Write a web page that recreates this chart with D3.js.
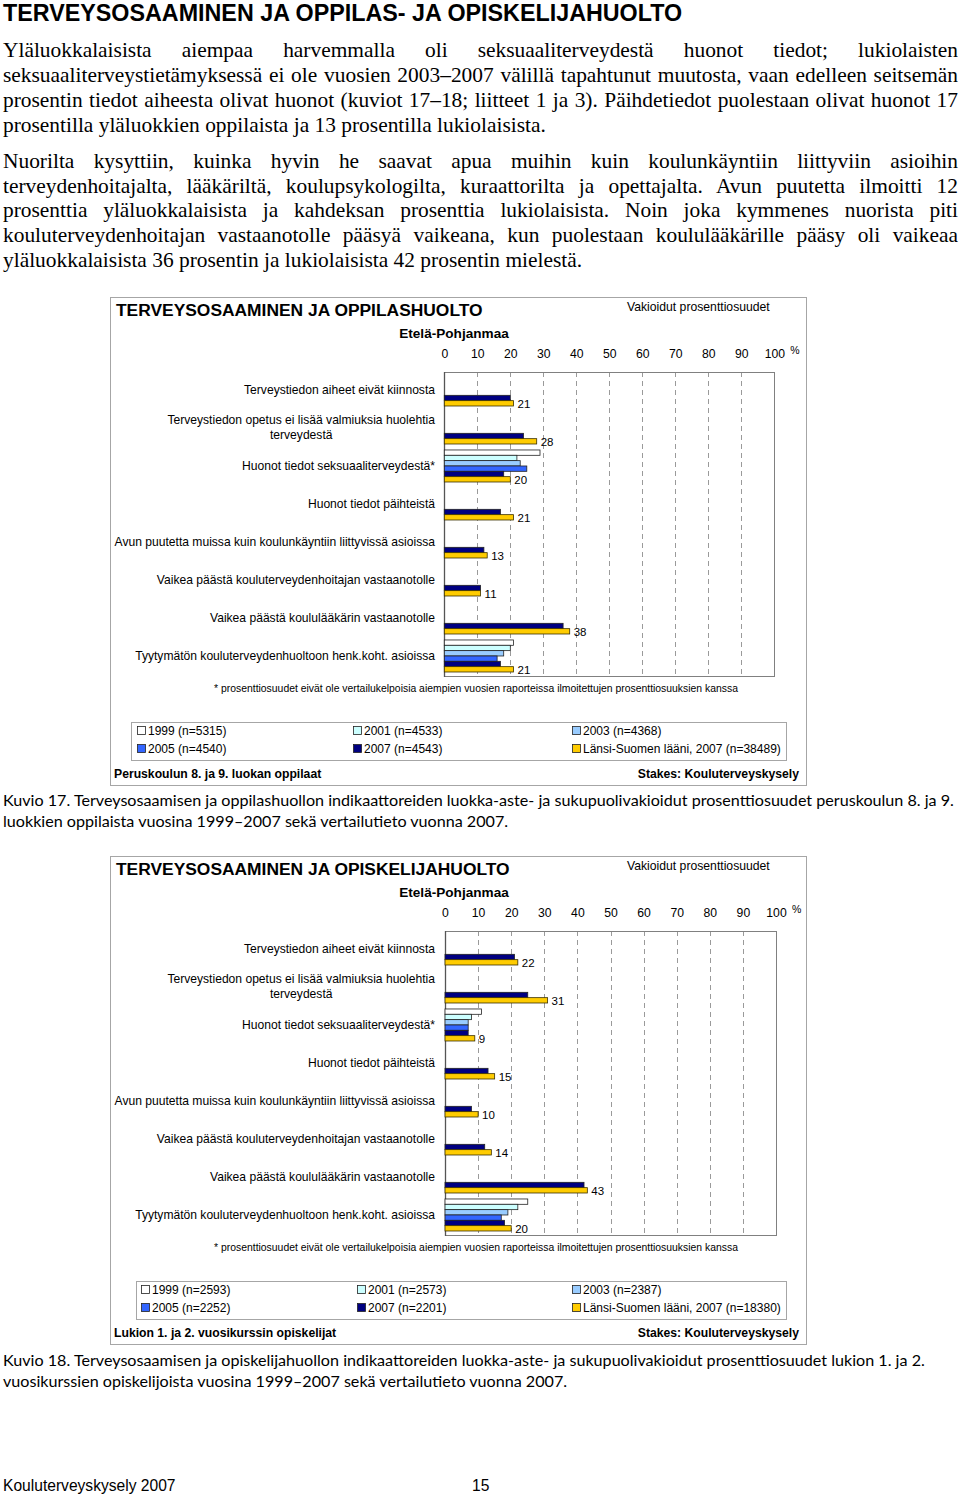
<!DOCTYPE html>
<html>
<head>
<meta charset="utf-8">
<script src="https://cdn.jsdelivr.net/npm/d3@7"></script>
<style>
  html, body { margin: 0; padding: 0; background: #fff; }
  #page { position: relative; width: 960px; height: 1496px; overflow: hidden; }
  #page svg { position: absolute; left: 0; top: 0; }
  .line { position: absolute; white-space: nowrap; color: #000; }
  .body { font-family: "Liberation Serif", "Times New Roman", serif; }
  .cap { font-family: "Lato", "Noto Sans", sans-serif; }
</style>
</head>
<body>
<div id="page"></div>
<script>
// ---------------- DATA ----------------
const pageHeading = "TERVEYSOSAAMINEN JA OPPILAS- JA OPISKELIJAHUOLTO";
const para1 = [
  "Yläluokkalaisista aiempaa harvemmalla oli seksuaaliterveydestä huonot tiedot; lukiolaisten",
  "seksuaaliterveystietämyksessä ei ole vuosien 2003–2007 välillä tapahtunut muutosta, vaan edelleen seitsemän",
  "prosentin tiedot aiheesta olivat huonot (kuviot 17–18; liitteet 1 ja 3). Päihdetiedot puolestaan olivat huonot 17",
  "prosentilla yläluokkien oppilaista ja 13 prosentilla lukiolaisista."
];
const para2 = [
  "Nuorilta kysyttiin, kuinka hyvin he saavat apua muihin kuin koulunkäyntiin liittyviin asioihin",
  "terveydenhoitajalta, lääkäriltä, koulupsykologilta, kuraattorilta ja opettajalta. Avun puutetta ilmoitti 12",
  "prosenttia yläluokkalaisista ja kahdeksan prosenttia lukiolaisista. Noin joka kymmenes nuorista piti",
  "kouluterveydenhoitajan vastaanotolle pääsyä vaikeana, kun puolestaan koululääkärille pääsy oli vaikeaa",
  "yläluokkalaisista 36 prosentin ja lukiolaisista 42 prosentin mielestä."
];
const caption1 = [
  "Kuvio 17. Terveysosaamisen ja oppilashuollon indikaattoreiden luokka-aste- ja sukupuolivakioidut prosenttiosuudet peruskoulun 8. ja 9.",
  "luokkien oppilaista vuosina 1999–2007 sekä vertailutieto vuonna 2007."
];
const caption2 = [
  "Kuvio 18. Terveysosaamisen ja opiskelijahuollon indikaattoreiden luokka-aste- ja sukupuolivakioidut prosenttiosuudet lukion 1. ja 2.",
  "vuosikurssien opiskelijoista vuosina 1999–2007 sekä vertailutieto vuonna 2007."
];
const pageFooterLeft = "Kouluterveyskysely 2007";
const pageNumber = "15";

const categories = [
  ["Terveystiedon aiheet eivät kiinnosta"],
  ["Terveystiedon opetus ei lisää valmiuksia huolehtia", "terveydestä"],
  ["Huonot tiedot seksuaaliterveydestä*"],
  ["Huonot tiedot päihteistä"],
  ["Avun puutetta muissa kuin koulunkäyntiin liittyvissä asioissa"],
  ["Vaikea päästä kouluterveydenhoitajan vastaanotolle"],
  ["Vaikea päästä koululääkärin vastaanotolle"],
  ["Tyytymätön kouluterveydenhuoltoon henk.koht. asioissa"]
];
const seriesKeys = ["1999", "2001", "2003", "2005", "2007", "lansi"];
const seriesColors = ["#ffffff", "#ccffff", "#99ccff", "#3366ff", "#000080", "#ffcc00"];
const xTicks = [0, 10, 20, 30, 40, 50, 60, 70, 80, 90, 100];

// Chart 1: peruskoulu 8.-9. lk
const c1_1999 = [null, null, 29, null, null, null, null, 21];
const c1_2001 = [null, null, 22, null, null, null, null, 20];
const c1_2003 = [null, null, 23, null, null, null, null, 18];
const c1_2005 = [null, null, 25, null, null, null, null, 16];
const c1_2007 = [20, 24, 18, 17, 12, 11, 36, 17];
const c1_lansi = [21, 28, 20, 21, 13, 11, 38, 21];
const c1_legend = ["1999 (n=5315)", "2001 (n=4533)", "2003 (n=4368)", "2005 (n=4540)", "2007 (n=4543)", "Länsi-Suomen lääni, 2007 (n=38489)"];

// Chart 2: lukio 1.-2. vuosikurssi
const c2_1999 = [null, null, 11, null, null, null, null, 25];
const c2_2001 = [null, null, 8, null, null, null, null, 22];
const c2_2003 = [null, null, 7, null, null, null, null, 19];
const c2_2005 = [null, null, 7, null, null, null, null, 17];
const c2_2007 = [21, 25, 7, 13, 8, 12, 42, 18];
const c2_lansi = [22, 31, 9, 15, 10, 14, 43, 20];
const c2_legend = ["1999 (n=2593)", "2001 (n=2573)", "2003 (n=2387)", "2005 (n=2252)", "2007 (n=2201)", "Länsi-Suomen lääni, 2007 (n=18380)"];

const chartTitles = ["TERVEYSOSAAMINEN JA OPPILASHUOLTO", "TERVEYSOSAAMINEN JA OPISKELIJAHUOLTO"];
const chartSubtitle = "Vakioidut prosenttiosuudet";
const regionName = "Etelä-Pohjanmaa";
const footnote = "* prosenttiosuudet eivät ole vertailukelpoisia aiempien vuosien raporteissa ilmoitettujen prosenttiosuuksien kanssa";
const chartFooterLeft = ["Peruskoulun 8. ja 9. luokan oppilaat", "Lukion 1. ja 2. vuosikurssin opiskelijat"];
const chartFooterRight = "Stakes: Kouluterveyskysely";

// ---------------- PAGE TEXT ----------------
const page = d3.select("#page");

function measure(text, cls, size) {
  const s = page.append("span").attr("class", "line " + cls)
    .style("font-size", size + "px").style("visibility", "hidden").text(text);
  const w = s.node().getBoundingClientRect().width;
  s.remove();
  return w;
}

// font size for body text: the last (unjustified) line of para 1 spans ~543 px in the reference
const bodySize = 20 * 543 / measure(para1[3], "body", 20);
const capSize = 16 * 952 / measure(caption1[0], "cap", 16);

function textLines(lines, cls, size, x, width, yCenters, lh, justify) {
  lines.forEach((t, i) => {
    const last = i === lines.length - 1;
    const d = page.append("div")
      .attr("class", "line " + cls)
      .style("left", x + "px")
      .style("top", (yCenters[i] - lh / 2) + "px")
      .style("height", lh + "px")
      .style("line-height", lh + "px")
      .style("font-size", size + "px")
      .text(t);
    if (justify && !last) {
      const w = measure(t, cls, size);
      const spaces = (t.match(/ /g) || []).length;
      d.style("word-spacing", ((width - w) / spaces) + "px");
    }
  });
}
textLines(para1, "body", bodySize, 3, 955, [50, 75, 100, 125], 24, true);
textLines(para2, "body", bodySize, 3, 955, [161, 186, 210, 235, 260], 24, true);
textLines(caption1, "cap", capSize, 3, 953, [799, 820], 21, false);
textLines(caption2, "cap", capSize, 3, 924, [1359, 1380], 21, false);

const svg = page.append("svg").attr("width", 960).attr("height", 1496);

svg.append("text")
  .attr("x", 3).attr("y", 13).attr("dy", "0.35em")
  .style("font-family", "Liberation Sans, Arial, sans-serif")
  .style("font-weight", "bold").style("font-size", "23.3px")
  .text(pageHeading);

svg.append("text")
  .attr("x", 3).attr("y", 1486).attr("dy", "0.35em")
  .style("font-family", "Liberation Sans, Arial, sans-serif").style("font-size", "15.6px")
  .text(pageFooterLeft);
svg.append("text")
  .attr("x", 472).attr("y", 1486).attr("dy", "0.35em")
  .style("font-family", "Liberation Sans, Arial, sans-serif").style("font-size", "15.6px")
  .text(pageNumber);

// ---------------- CHARTS ----------------
function drawChart(opt) {
  const g = svg.append("g").attr("transform", `translate(0,${opt.dy})`)
    .style("font-family", "Liberation Sans, Arial, sans-serif");

  // outer frame
  g.append("rect").attr("x", 110.5).attr("y", 297.5).attr("width", 696).attr("height", 488)
    .attr("fill", "none").attr("stroke", "#a6a6a6").attr("stroke-width", 1);

  g.append("text").attr("x", 116).attr("y", 310).attr("dy", "0.35em")
    .style("font-weight", "bold").style("font-size", "17.4px").text(opt.title);
  g.append("text").attr("x", 627).attr("y", 307).attr("dy", "0.35em")
    .style("font-size", "12.2px").text(chartSubtitle);
  g.append("text").attr("x", 454).attr("y", 333).attr("dy", "0.35em")
    .attr("text-anchor", "middle")
    .style("font-weight", "bold").style("font-size", "13.6px").text(regionName);

  const x = d3.scaleLinear().domain([0, 100]).range([opt.x0, opt.x1]);
  const y = d3.scaleBand().domain(d3.range(categories.length)).range([372, 676]).paddingInner(0).paddingOuter(0);
  const ys = d3.scaleBand().domain(seriesKeys).range([0, y.bandwidth()]).paddingOuter(0.56).align(0.33);

  // gridlines
  g.append("g").selectAll("line").data(xTicks.filter(t => t > 0 && t < 100)).join("line")
    .attr("x1", d => Math.round(x(d)) + 0.5).attr("x2", d => Math.round(x(d)) + 0.5)
    .attr("y1", 372).attr("y2", 676)
    .attr("stroke", "#9a9a9a").attr("stroke-width", 1).attr("stroke-dasharray", "5,4");

  // plot box
  g.append("rect").attr("x", Math.round(x(0)) + 0.5).attr("y", 372.5)
    .attr("width", Math.round(x(100)) - Math.round(x(0))).attr("height", 304)
    .attr("fill", "none").attr("stroke", "#808080").attr("stroke-width", 1);
  g.append("line").attr("x1", Math.round(x(0)) + 0.5).attr("x2", Math.round(x(0)) + 0.5)
    .attr("y1", 372).attr("y2", 677).attr("stroke", "#555").attr("stroke-width", 1.3);

  // top axis (labels only)
  const ax = g.append("g").attr("transform", "translate(0,372)")
    .call(d3.axisTop(x).tickValues(xTicks).tickSize(0).tickPadding(14).tickFormat(d3.format("d")));
  ax.select(".domain").remove();
  ax.selectAll("text").style("font-size", "12.2px").style("font-family", "Liberation Sans, Arial, sans-serif").attr("fill", "#000");
  g.append("text").attr("x", x(100) + 16).attr("y", 350).attr("dy", "0.35em")
    .style("font-size", "10.5px").text("%");

  // bars
  opt.series.forEach((vals, si) => {
    const key = seriesKeys[si];
    g.append("g").selectAll("rect").data(vals.map((v, i) => ({ v, i })).filter(d => d.v != null)).join("rect")
      .attr("x", x(0))
      .attr("y", d => y(d.i) + ys(key))
      .attr("width", d => x(d.v) - x(0))
      .attr("height", ys.bandwidth())
      .attr("fill", seriesColors[si])
      .attr("stroke", si === 5 ? "#3a3000" : "#222")
      .attr("stroke-width", 0.8);
  });

  // value labels (Länsi-Suomi series)
  const last = opt.series[5];
  g.append("g").selectAll("text").data(last.map((v, i) => ({ v, i }))).join("text")
    .attr("x", d => x(d.v) + 4)
    .attr("y", d => y(d.i) + ys("lansi") + ys.bandwidth() / 2 + 1)
    .attr("dy", "0.35em")
    .style("font-size", "11.5px")
    .text(d => d.v);

  // category labels
  categories.forEach((lines, i) => {
    const cy = y(i) + y.bandwidth() / 2;
    if (lines.length === 1) {
      g.append("text").attr("x", 435).attr("y", cy - 1).attr("dy", "0.35em")
        .attr("text-anchor", "end").style("font-size", "12.1px").text(lines[0]);
    } else {
      const t1 = g.append("text").attr("x", 435).attr("y", cy - 9).attr("dy", "0.35em")
        .attr("text-anchor", "end").style("font-size", "12.1px").text(lines[0]);
      const w = t1.node().getComputedTextLength();
      g.append("text").attr("x", 435 - w / 2).attr("y", cy + 6).attr("dy", "0.35em")
        .attr("text-anchor", "middle").style("font-size", "12.1px").text(lines[1]);
    }
  });

  // footnote
  g.append("text").attr("x", 476).attr("y", 688).attr("dy", "0.35em")
    .attr("text-anchor", "middle").style("font-size", "10.4px").text(footnote);

  // legend
  g.append("rect").attr("x", opt.legX + 0.5).attr("y", 722.5).attr("width", 786 - opt.legX).attr("height", 38)
    .attr("fill", "none").attr("stroke", "#a6a6a6");
  opt.legend.forEach((lab, i) => {
    const col = i % 3, row = Math.floor(i / 3);
    const lx = opt.legCols[col], ly = 731 + row * 18;
    g.append("rect").attr("x", lx + 0.5).attr("y", ly - 4.5).attr("width", 8).attr("height", 8)
      .attr("fill", seriesColors[i]).attr("stroke", "#222").attr("stroke-width", 0.8);
    g.append("text").attr("x", lx + 11).attr("y", ly).attr("dy", "0.35em")
      .style("font-size", "12px").text(lab);
  });

  g.append("text").attr("x", 114).attr("y", 774).attr("dy", "0.35em")
    .style("font-weight", "bold").style("font-size", "12.2px").text(opt.footLeft);
  g.append("text").attr("x", 799).attr("y", 774).attr("dy", "0.35em").attr("text-anchor", "end")
    .style("font-weight", "bold").style("font-size", "12.2px").text(chartFooterRight);
}

drawChart({
  dy: 0, title: chartTitles[0], x0: 444.3, x1: 774.3,
  series: [c1_1999, c1_2001, c1_2003, c1_2005, c1_2007, c1_lansi],
  legend: c1_legend, legX: 131, legCols: [137, 353, 572], footLeft: chartFooterLeft[0]
});
drawChart({
  dy: 559, title: chartTitles[1], x0: 445, x1: 776,
  series: [c2_1999, c2_2001, c2_2003, c2_2005, c2_2007, c2_lansi],
  legend: c2_legend, legX: 136, legCols: [141, 357, 572], footLeft: chartFooterLeft[1]
});
</script>
</body>
</html>
